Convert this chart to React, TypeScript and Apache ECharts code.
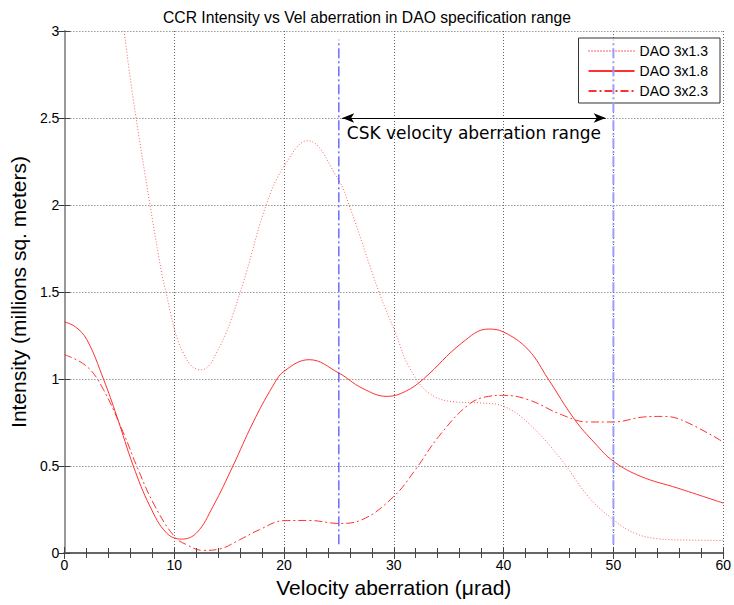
import React, { useEffect, useRef } from "react";
import * as echarts from "echarts";

const titleText = "CCR Intensity vs Vel aberration in DAO specification range";
const xName = "Velocity aberration (\u03bcrad)";
const yName = "Intensity (millions sq. meters)";
const seriesNames = ["DAO 3x1.3", "DAO 3x1.8", "DAO 3x2.3"];

const dao13: [number, number][] = [
  [5.44, 3.0], [6.28, 2.605], [7.8, 2.0], [8.86, 1.609], [9.25, 1.5], [9.67, 1.379], [10.0, 1.293],
  [10.37, 1.216], [10.82, 1.149], [11.42, 1.086], [12.03, 1.057], [12.48, 1.053], [13.24, 1.082],
  [13.84, 1.149], [14.6, 1.245], [15.35, 1.37], [16.02, 1.5], [16.56, 1.609], [18.38, 2.0],
  [20.0, 2.222], [22.15, 2.37], [24.96, 2.145], [25.93, 2.0], [28.65, 1.5], [30.16, 1.264],
  [31.37, 1.072], [33.18, 0.92], [35.6, 0.868], [38.0, 0.862], [40.0, 0.843], [42.25, 0.747],
  [45.27, 0.536], [47.7, 0.325], [50.0, 0.191], [51.9, 0.115], [54.0, 0.082], [57.0, 0.074],
  [60.0, 0.072],
];

const dao18: [number, number][] = [
  [0, 1.328], [1.0, 1.3], [2.05, 1.226], [3.56, 1.0], [4.78, 0.785], [6.28, 0.5], [7.8, 0.268],
  [9.31, 0.115], [10.67, 0.08], [12.03, 0.115], [13.54, 0.268], [15.35, 0.5], [17.16, 0.747],
  [18.97, 0.958], [20.0, 1.044], [22.3, 1.111], [25.0, 1.034], [27.1, 0.948], [29.4, 0.9],
  [31.07, 0.929], [32.7, 1.0], [36.2, 1.207], [38.6, 1.287], [40.0, 1.27], [42.25, 1.168],
  [44.06, 1.0], [46.48, 0.766], [48.3, 0.632], [50.0, 0.527], [52.5, 0.44], [55.85, 0.373],
  [60.0, 0.287],
];

const dao23: [number, number][] = [
  [0, 1.14], [2.05, 1.072], [3.56, 0.939], [5.38, 0.69], [6.59, 0.5], [8.1, 0.287], [10.0, 0.096],
  [11.12, 0.048], [12.63, 0.015], [14.14, 0.023], [15.96, 0.076], [17.77, 0.134], [20.0, 0.186],
  [22.3, 0.187], [25.0, 0.17], [27.1, 0.191], [30.0, 0.325], [31.97, 0.479], [34.1, 0.67],
  [36.8, 0.852], [38.6, 0.9], [40.0, 0.906], [42.25, 0.881], [45.27, 0.795], [47.7, 0.753],
  [50.0, 0.753], [52.8, 0.782], [54.35, 0.785], [56.16, 0.766], [60.0, 0.638],
];

// annotation values (data coordinates)
const rangeLines = [25, 50];
const rangeLineColors = ["#2020ff", "#9c9cff"];
const rangeLineWidths = [1, 2];
const rangeLineSpan = [0.05, 2.95];
const arrowY = 2.5;
const arrowX = [25.3, 49.3];
const annotationText = "CSK velocity aberration range";

const axisFont = "Liberation Sans, Arial, sans-serif";

export default function App() {
  const ref = useRef<HTMLDivElement>(null);
  useEffect(() => {
    if (!ref.current) return;
    const chart = echarts.init(ref.current, undefined, { renderer: "svg" });
    const red = "#ff3030";
    const vLineSeries = rangeLines.map((xv, i) => ({
      name: "range" + i,
      type: "line",
      data: [
        [xv, rangeLineSpan[0]],
        [xv, rangeLineSpan[1]],
      ],
      symbol: "none",
      silent: true,
      z: 4,
      color: rangeLineColors[i],
      lineStyle: { color: rangeLineColors[i], width: rangeLineWidths[i], type: [10, 3, 2, 3] },
      emphasis: { disabled: true },
    }));
    chart.setOption({
      animation: false,
      backgroundColor: "#fff",
      title: {
        text: titleText,
        left: "center",
        top: 4,
        textStyle: { fontFamily: axisFont, fontSize: 15.7, fontWeight: "normal", color: "#000" },
      },
      grid: { left: 64, right: 8, top: 31, bottom: 52, containLabel: false },
      legend: {
        orient: "vertical",
        right: 14,
        top: 38,
        backgroundColor: "#fff",
        borderColor: "#333",
        borderWidth: 1,
        borderRadius: 0,
        padding: [6, 12, 5, 9],
        itemWidth: 46,
        itemHeight: 14,
        itemGap: 6,
        itemStyle: { opacity: 0, borderWidth: 0 },
        textStyle: { fontFamily: axisFont, fontSize: 14, color: "#000" },
        data: seriesNames,
      },
      xAxis: [
        {
          type: "value",
          min: 0,
          max: 60,
          interval: 10,
          position: "bottom",
          name: xName,
          nameLocation: "middle",
          nameGap: 24,
          nameTextStyle: { fontFamily: axisFont, fontSize: 21, color: "#000" },
          axisLine: { show: true, lineStyle: { color: "#999", width: 2 } },
          axisTick: { show: true, inside: true, length: 6, lineStyle: { color: "#444" } },
          minorTick: { show: true, splitNumber: 5, length: 5, lineStyle: { color: "#444" } },
          axisLabel: { fontFamily: axisFont, fontSize: 14, color: "#000", margin: 5 },
          splitLine: { show: true, lineStyle: { color: "#666", type: [1, 2], width: 1 } },
        },
        {
          type: "value",
          min: 0,
          max: 60,
          interval: 10,
          position: "top",
          axisLine: { show: true, lineStyle: { color: "#666", width: 2 } },
          axisTick: { show: true, inside: true, length: 6, lineStyle: { color: "#444" } },
          minorTick: { show: true, splitNumber: 5, length: 5, lineStyle: { color: "#444" } },
          axisLabel: { show: false },
          splitLine: { show: false },
        },
      ],
      yAxis: [
        {
          type: "value",
          min: 0,
          max: 3,
          interval: 0.5,
          position: "left",
          name: yName,
          nameLocation: "middle",
          nameGap: 31,
          nameTextStyle: { fontFamily: axisFont, fontSize: 21, color: "#000" },
          axisLine: { show: true, lineStyle: { color: "#999", width: 2 } },
          axisTick: { show: true, inside: true, length: 6, lineStyle: { color: "#444" } },
          axisLabel: { fontFamily: axisFont, fontSize: 14, color: "#000", margin: 5 },
          splitLine: { show: true, lineStyle: { color: "#666", type: [1, 2], width: 1 } },
        },
        {
          type: "value",
          min: 0,
          max: 3,
          interval: 0.5,
          position: "right",
          axisLine: { show: true, lineStyle: { color: "#999", width: 2 } },
          axisTick: { show: true, inside: true, length: 6, lineStyle: { color: "#333" } },
          axisLabel: { show: false },
          splitLine: { show: false },
        },
      ],
      series: [
        {
          name: seriesNames[0],
          type: "line",
          data: dao13,
          smooth: 0.4,
          symbol: "none",
          color: "#ff6060",
          lineStyle: { width: 1, type: [1, 2], color: "#ff6060" },
          z: 3,
        },
        {
          name: seriesNames[1],
          type: "line",
          data: dao18,
          smooth: 0.4,
          symbol: "none",
          color: red,
          lineStyle: { width: 1, type: "solid", color: red },
          z: 3,
        },
        {
          name: seriesNames[2],
          type: "line",
          data: dao23,
          smooth: 0.4,
          symbol: "none",
          color: red,
          lineStyle: { width: 1, type: [8, 3, 2, 3], color: red },
          z: 3,
        },
        ...vLineSeries,
        {
          name: "arrow",
          type: "line",
          data: [],
          silent: true,
          z: 5,
          color: "#000",
          markLine: {
            silent: true,
            animation: false,
            symbol: ["arrow", "arrow"],
            symbolSize: [7, 12],
            lineStyle: { color: "#000", width: 1, type: "solid" },
            label: {
              show: true,
              position: "insideMiddleBottom",
              formatter: annotationText,
              distance: 6,
              fontFamily: "DejaVu Sans, Verdana, sans-serif",
              fontSize: 17,
              color: "#000",
            },
            data: [
              [
                { coord: [arrowX[0], arrowY] },
                { coord: [arrowX[1], arrowY] },
              ],
            ],
          },
        },
      ],
    });
    return () => chart.dispose();
  }, []);
  return (
    <div
      ref={ref}
      style={{ position: "fixed", left: 0, top: 0, width: 734, height: 605, background: "#fff" }}
    />
  );
}
